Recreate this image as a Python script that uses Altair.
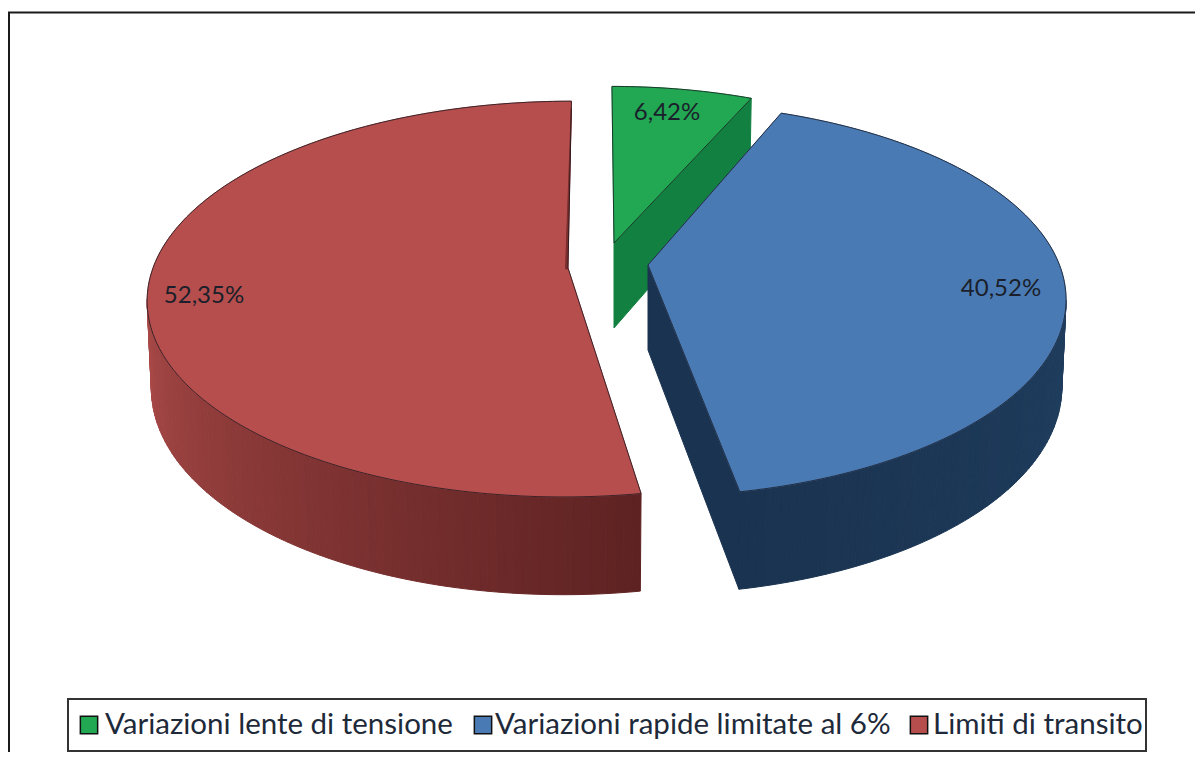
import math
import altair as alt
import pandas as pd

# ---- chart values ----
labels = ["Variazioni lente di tensione", "Variazioni rapide limitate al 6%", "Limiti di transito"]
values = [6.42, 40.52, 52.35]
value_text = ["6,42%", "40,52%", "52,35%"]
top_colors = ["#22A752", "#4A7AB3", "#B54E4C"]
face_colors = ["#128040", "#1A3350", "#5E2222"]
wall_near = ["#128040", "#1F3D5E", "#AA4A48"]
wall_far = ["#128040", "#1A3350", "#5E2222"]

# ---- projection of the tilted, exploded pie ----
RX, RY, K = 415.0, 193.0, 0.157
DEPTH, DEPTH_K, BOTTOM_SHRINK = 85.0, 0.15, 0.99
apex = [(614, 243), (648, 265), (568, 268)]
slice_scale = [0.94, 0.995, 1.0]
slice_shear = [-2.5, 0.0, 4.0]
slice_drop = [1.5, 4.0, 0.0]
edge_tweak = [(0.0, 0.6), (-1.6, -1.05), (0.7, 0.0)]
wall_range = [None, (99.0, None), (None, 261.0)]
label_pos = [(667, 113), (1001, 289), (204, 296)]

total = sum(values)
edges = []
acc = 0.0
for v in values:
    edges.append((acc / total * 360.0, (acc + v) / total * 360.0))
    acc += v


def pt(i, r, deg, bottom=False):
    t = math.radians(deg)
    c, sn = math.cos(t), math.sin(t)
    rr = r * slice_scale[i]
    s = 1.0 / (1.0 + K * rr * c)
    X = RX * rr * sn * s + slice_shear[i] * rr * c * s
    Y = -RY * rr * c * s + slice_drop[i] * r
    if bottom:
        return apex[i][0] + X * BOTTOM_SHRINK, apex[i][1] + Y + DEPTH * (1 - DEPTH_K * rr * c)
    return apex[i][0] + X, apex[i][1] + Y


def mix(a, b, f):
    ca = [int(a[j:j + 2], 16) for j in (1, 3, 5)]
    cb = [int(b[j:j + 2], 16) for j in (1, 3, 5)]
    return "#%02x%02x%02x" % tuple(round(p + (q - p) * f) for p, q in zip(ca, cb))


rows = []
outlines = []
pid = [0]


def poly(points, fill):
    pid[0] += 1
    for n, (x, y) in enumerate(points + points[:1]):
        rows.append(dict(x=x, y=y, pid=pid[0], n=n, fill=fill))


def outline(points):
    pid[0] += 1
    for n, (x, y) in enumerate(points):
        outlines.append(dict(x=x, y=y, pid=pid[0], n=n))


def arc(i, a, b, bottom=False, step=1.0):
    count = max(2, int(abs(b - a) / step))
    return [pt(i, 1, a + (b - a) * j / count, bottom) for j in range(count + 1)]


for i in range(3):
    a, b = edges[i]
    a += edge_tweak[i][0]
    b += edge_tweak[i][1]
    # cut faces
    if i < 2:
        poly([pt(i, 0, 0), pt(i, 1, b), pt(i, 1, b, True), pt(i, 0, 0, True)], face_colors[i])
    # rounded wall
    if wall_range[i]:
        lo = wall_range[i][0] if wall_range[i][0] is not None else a
        hi = wall_range[i][1] if wall_range[i][1] is not None else b
        n = int((hi - lo) / 1.0)
        for j in range(n):
            d0 = lo + (hi - lo) * j / n
            d1 = lo + (hi - lo) * (j + 1) / n
            f = (j + 0.5) / n
            colour = mix(wall_near[i], wall_far[i], f if i == 1 else 1 - f)
            poly([pt(i, 1, d0), pt(i, 1, d1), pt(i, 1, d1, True), pt(i, 1, d0, True)], colour)
    # top surface
    shape = [pt(i, 0, 0)] + arc(i, a, b)
    poly(shape, top_colors[i])
    outline(shape + shape[:1])

# thin sliver of the red slice's hidden cut face
ax_, ay_ = apex[2]
poly([pt(2, 0.95, 360), (ax_ - 0.5, ay_ + 1), (ax_ - 2.5, ay_ + 1)], "#7A2E2D")

W, H = 1187, 744
sx = alt.Scale(domain=[8, 8 + W], range=[0, W])
sy = alt.Scale(domain=[8, 8 + H], range=[0, H])
X = alt.X("x:Q", scale=sx, axis=None)
Y = alt.Y("y:Q", scale=sy, axis=None)

polys = alt.Chart(pd.DataFrame(rows)).mark_line(strokeWidth=1.0, interpolate="linear").encode(
    X, Y,
    detail="pid:N",
    order="n:Q",
    fill=alt.Fill("fill:N", scale=None),
    stroke=alt.Stroke("fill:N", scale=None),
)
lines = alt.Chart(pd.DataFrame(outlines)).mark_line(strokeWidth=1, color="#14141c", opacity=0.75).encode(
    X, Y, detail="pid:N", order="n:Q"
)
pie_text = alt.Chart(pd.DataFrame({
    "x": [p[0] for p in label_pos], "y": [p[1] for p in label_pos], "t": value_text
})).mark_text(font="Lato", fontSize=24, color="#1a1f2b").encode(X, Y, text="t:N")

top_rule = alt.Chart(pd.DataFrame({"x": [8], "x2": [8 + W], "y": [12.5]})).mark_rule(
    color="#1a1a1a", strokeWidth=2).encode(X, x2="x2:Q", y=Y)
left_rule = alt.Chart(pd.DataFrame({"x": [9], "y": [12], "y2": [8 + H]})).mark_rule(
    color="#1a1a1a", strokeWidth=2).encode(X, y=Y, y2="y2:Q")

legend_box = alt.Chart(pd.DataFrame({"x": [68], "x2": [1146], "y": [699], "y2": [751]})).mark_rect(
    fill="white", stroke="#333333", strokeWidth=2
).encode(X, x2="x2:Q", y=Y, y2="y2:Q")

legend_df = pd.DataFrame({
    "x": [89, 483, 919], "tx": [105, 495, 933], "y": [725, 725, 725],
    "label": labels, "fill": top_colors,
})
legend_sw = alt.Chart(legend_df).mark_square(size=300, opacity=1, stroke="#111111", strokeWidth=1.5).encode(
    X, Y, fill=alt.Fill("fill:N", scale=None)
)
legend_tx = alt.Chart(legend_df).mark_text(font="Lato", fontSize=29.5, align="left", color="#1e2a3a").encode(
    alt.X("tx:Q", scale=sx, axis=None), Y, text="label:N"
)

chart = alt.layer(polys, lines, pie_text, top_rule, left_rule, legend_box, legend_sw, legend_tx).properties(
    width=W, height=H, padding=0, autosize=alt.AutoSizeParams(type="none"), background="white"
).configure_view(stroke=None)

chart.save("out.html", embed_options={"renderer": "svg", "actions": False})
